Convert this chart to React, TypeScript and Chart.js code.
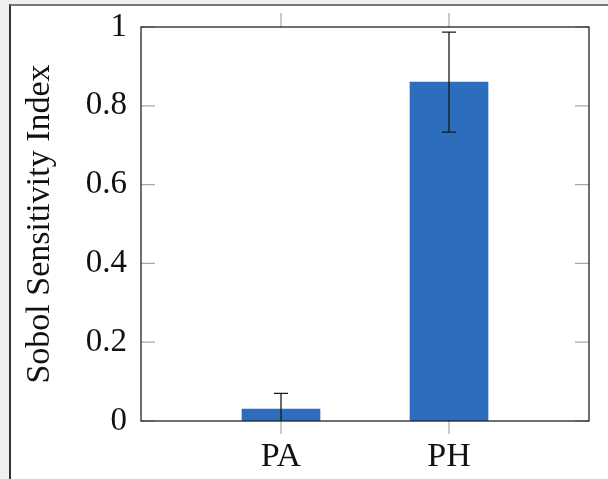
import { useEffect, useRef } from 'react';
import { Chart, registerables } from 'chart.js';

Chart.register(...registerables);

const categories = ['PA', 'PH'];
const sobolValues = [0.03, 0.86];
const sobolErrors = [0.04, 0.127];
const yTickValues = [0, 0.2, 0.4, 0.6, 0.8, 1];
const yTickLabels = ['0', '0.2', '0.4', '0.6', '0.8', '1'];

const FONT = '"Liberation Serif"';

const decor = {
  id: 'decor',
  afterDatasetsDraw(chart: any) {
    const { ctx, chartArea: a, scales } = chart;
    const x = scales.x;
    const y = scales.y;
    // error bars
    ctx.save();
    ctx.beginPath();
    ctx.rect(a.left, a.top, a.right - a.left, a.bottom - a.top);
    ctx.clip();
    ctx.strokeStyle = '#1a1a1a';
    ctx.lineWidth = 1.3;
    categories.forEach((_, i) => {
      const px = x.getPixelForValue(i);
      const hi = y.getPixelForValue(sobolValues[i] + sobolErrors[i]);
      const lo = y.getPixelForValue(sobolValues[i] - sobolErrors[i]);
      ctx.beginPath();
      ctx.moveTo(px, lo);
      ctx.lineTo(px, hi);
      ctx.moveTo(px - 7, hi);
      ctx.lineTo(px + 7, hi);
      ctx.moveTo(px - 7, lo);
      ctx.lineTo(px + 7, lo);
      ctx.stroke();
    });
    ctx.restore();

    // tick marks
    ctx.save();
    ctx.strokeStyle = '#a8a8a8';
    ctx.lineWidth = 1.2;
    ctx.beginPath();
    yTickValues.forEach((v) => {
      const py = y.getPixelForValue(v);
      ctx.moveTo(a.left, py);
      ctx.lineTo(a.left + 14, py);
      ctx.moveTo(a.right, py);
      ctx.lineTo(a.right - 14, py);
    });
    categories.forEach((_, i) => {
      const px = x.getPixelForValue(i);
      ctx.moveTo(px, a.bottom);
      ctx.lineTo(px, a.bottom + 13);
      ctx.moveTo(px, a.top);
      ctx.lineTo(px, a.top - 14);
    });
    ctx.stroke();

    // frame
    ctx.strokeStyle = '#222';
    ctx.lineWidth = 1.3;
    ctx.strokeRect(a.left, a.top, a.right - a.left, a.bottom - a.top);
    ctx.restore();
  },
};

export default function App() {
  const ref = useRef<HTMLCanvasElement | null>(null);

  useEffect(() => {
    if (!ref.current) return;
    const chart = new Chart(ref.current, {
      type: 'bar',
      data: {
        datasets: [
          {
            data: sobolValues.map((v, i) => ({ x: i, y: v })),
            backgroundColor: '#2c6dbd',
            borderWidth: 0,
            barThickness: 78,
          },
        ],
      },
      options: {
        responsive: false,
        animation: false,
        layout: { padding: { top: 27, right: 19, left: 0, bottom: 0 } },
        plugins: { legend: { display: false }, tooltip: { enabled: false } },
        scales: {
          x: {
            type: 'linear',
            offset: false,
            min: -0.8333,
            max: 1.8333,
            grid: { display: false, drawTicks: false, offset: false },
            border: { display: false },
            afterBuildTicks: (s: any) => {
              s.ticks = categories.map((_, i) => ({ value: i }));
            },
            afterFit: (s: any) => {
              s.height = 58;
              s.paddingLeft = 0;
              s.paddingRight = 0;
            },
            ticks: {
              autoSkip: false,
              maxRotation: 0,
              padding: 16,
              color: '#111',
              font: { family: FONT, size: 34 },
              callback: (v: any) => categories[v as number] ?? '',
            },
          },
          y: {
            min: 0,
            max: 1,
            grid: { display: false, drawTicks: false },
            border: { display: false },
            afterBuildTicks: (s: any) => {
              s.ticks = yTickValues.map((v) => ({ value: v }));
            },
            afterFit: (s: any) => {
              s.width = 141;
              s.paddingTop = 0;
              s.paddingBottom = 0;
            },
            ticks: {
              padding: 14,
              color: '#111',
              font: { family: FONT, size: 33 },
              callback: (_v: any, i: number) => yTickLabels[i],
            },
            title: {
              display: true,
              text: 'Sobol Sensitivity Index',
              color: '#111',
              font: { family: FONT, size: 34 },
              padding: { top: 20, bottom: 0 },
            },
          },
        },
      },
      plugins: [decor],
    } as any);
    return () => chart.destroy();
  }, []);

  return (
    <div style={{ position: 'fixed', inset: 0, background: '#efefef', overflow: 'hidden' }}>
      <div
        style={{
          position: 'absolute',
          left: 9,
          top: 4,
          right: -10,
          bottom: -10,
          background: '#fff',
          borderLeft: '2px solid #333',
          borderTop: '2px solid #777',
        }}
      />
      <canvas
        ref={ref}
        width={608}
        height={479}
        style={{ position: 'absolute', left: 0, top: 0, width: 608, height: 479 }}
      />
    </div>
  );
}
